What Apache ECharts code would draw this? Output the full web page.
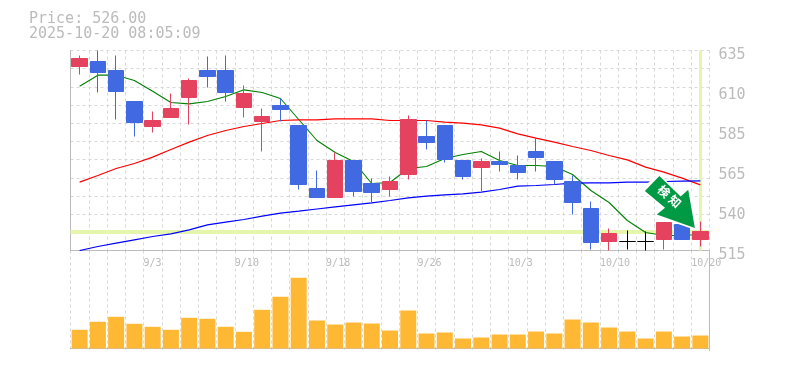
<!DOCTYPE html>
<html>
<head>
<meta charset="utf-8">
<style>
  html, body { margin: 0; padding: 0; background: #fff; }
  #chart { width: 785px; height: 370px; }
</style>
<script src="https://cdn.jsdelivr.net/npm/echarts@6/dist/echarts.min.js"></script>
</head>
<body>
<div id="chart"></div>
<script>
const dates = ['8/28', '8/29', '9/1', '9/2', '9/3', '9/4', '9/5', '9/8', '9/9', '9/10', '9/11', '9/12', '9/16', '9/17', '9/18', '9/19', '9/22', '9/24', '9/25', '9/26', '9/29', '9/30', '10/1', '10/2', '10/3', '10/6', '10/7', '10/8', '10/9', '10/10', '10/14', '10/15', '10/16', '10/17', '10/20']
// open, close, low, high
const candles = [
  [625.4, 630.2, 620.6, 632], [628.4, 621.8, 609.8, 635], [623, 610.4, 593.6, 632], [604.4, 591.8, 583.4, 604.4],
  [589.4, 593, 585.8, 598.4], [594.8, 600.2, 594.8, 609.2], [606.8, 617, 590.6, 618.2], [623, 619.4, 612.8, 631.4],
  [623, 609.8, 604.4, 632], [600.8, 609.2, 594.8, 614], [592.4, 595.4, 574.4, 600.2], [602, 599.6, 592.4, 606.2],
  [590, 554.6, 551.6, 590], [552.2, 546.8, 546.8, 563], [546.8, 569, 546.8, 573.8], [569, 550.4, 547.4, 569],
  [555.2, 549.8, 543.2, 558.2], [551.6, 556.4, 547.4, 559.4], [560.6, 593.6, 557.6, 596], [583.4, 579.8, 575.6, 593],
  [590, 569.6, 567.8, 590], [569, 559.4, 557.6, 569], [564.8, 568.4, 550.4, 570.2], [568.4, 566.6, 562.4, 574.4],
  [566, 561.8, 557.6, 572], [574.4, 570.8, 562.4, 582.2], [568.4, 557.6, 554.6, 568.4], [556.4, 543.8, 536.6, 560],
  [540.2, 519.8, 515.6, 544.4], [520.4, 525.2, 515, 528.2], [520.4, 520.4, 515.6, 527], [520.4, 520.4, 515, 526.4],
  [521.6, 531.8, 515.6, 531.8], [530.6, 521.6, 521.6, 530.6], [521.6, 526.4, 517.4, 532.4]
]
const maShort = [613.6, 620.2, 620.2, 617, 610.6, 603.8, 603, 604.4, 607.4, 611.4, 609.8, 606.2, 593.6, 581, 573.8, 568.4, 555.2, 555.8, 564.2, 565.4, 570.2, 572.6, 574.4, 569, 566, 566, 565.4, 560.6, 551, 543.8, 533, 525.8, 524, 524, 524.6]
const maMid = [556, 560, 564.2, 567.2, 571, 575.6, 580, 584, 587, 589.4, 591.2, 593, 593.4, 593.4, 594, 594, 594, 593, 593, 593, 592, 591.4, 590.4, 588.4, 585, 582.4, 580, 577.4, 575, 572, 569.4, 565, 562, 558.4, 554.4]
const maLong = [515, 517.4, 519.4, 521.4, 523.4, 525, 527.4, 530.4, 532, 533.6, 535.6, 537.4, 538.6, 539.9, 541.2, 542.4, 543.6, 545, 546.6, 547.6, 548.4, 549, 550, 551.6, 553.6, 554, 554.6, 555.4, 555.6, 555.6, 556, 556, 556.4, 556.6, 556.8]
const volumes = [18.7, 26.7, 31.7, 24.7, 21.7, 18.7, 30.7, 29.7, 21.7, 16.7, 38.7, 51.7, 70.7, 28, 24, 26, 25, 18, 38, 15, 16, 10, 11, 14, 14, 17, 15, 29, 26, 21, 17, 10, 17, 12, 13]
const priceTicks = [515, 539, 563, 587, 611, 635]
const priceLabels = ['515', '540', '565', '585', '610', '635']
const dateTickIndex = [4, 9, 14, 19, 24, 29, 34]
const dateTickLabels = ['9/3', '9/10', '9/18', '9/26', '10/3', '10/10', '10/20']
const lastPrice = 526

const gridColor = '#d8d8d8'
const axisColor = '#bbb'
const mono = '"DejaVu Sans Mono", monospace'
const dash = { color: gridColor, type: [3, 3], width: 1 }
const arrowPath = 'path://M0 15L14.6 0L36 20.3L43.6 13.6L50.3 51.6L12 38.3L20.3 31.6Z'

const chart = echarts.init(document.getElementById('chart'), null, { renderer: 'canvas' })

// 矢印の位置はローソク足の座標に合わせる
function arrowPoint(size, color, extra) {
  return Object.assign({
    coord: [dates[32], 544.1],
    symbol: arrowPath,
    symbolSize: size,
    symbolKeepAspect: false,
    symbolOffset: [6, 0],
    itemStyle: { color: color }
  }, extra)
}

chart.setOption({
  animation: false,
  backgroundColor: '#fff',
  title: {
    left: 29,
    top: 11,
    padding: 0,
    text: 'Price: 526.00\n2025-10-20 08:05:09',
    textStyle: { color: axisColor, fontFamily: mono, fontSize: 15, fontWeight: 'normal', lineHeight: 15.6 }
  },
  grid: [
    { left: 70.5, top: 50.5, width: 639, height: 200 },
    { left: 70.5, top: 250.5, width: 639, height: 100 }
  ],
  xAxis: [
    {
      type: 'category',
      gridIndex: 0,
      position: 'bottom',
      data: dates,
      axisLine: { show: true, lineStyle: { color: axisColor } },
      axisTick: { show: false },
      axisLabel: { show: false },
      splitLine: { show: true, interval: 0, lineStyle: dash }
    },
    {
      // 日付ラベル用
      type: 'value',
      gridIndex: 0,
      position: 'bottom',
      min: 0,
      max: dates.length,
      axisLine: { show: false },
      axisTick: { show: false },
      splitLine: { show: false },
      axisLabel: {
        customValues: dateTickIndex,
        align: 'left',
        margin: 8,
        color: axisColor,
        fontFamily: mono,
        fontSize: 10,
        formatter: function(v) {
          return dateTickLabels[dateTickIndex.indexOf(v)]
        }
      }
    },
    {
      type: 'category',
      gridIndex: 1,
      data: dates,
      axisLine: { show: true, lineStyle: { color: axisColor } },
      axisTick: { show: false },
      axisLabel: { show: false },
      splitLine: { show: true, interval: 0, lineStyle: dash }
    }
  ],
  yAxis: [
    {
      type: 'value',
      gridIndex: 0,
      position: 'right',
      min: 515,
      max: 635,
      axisLine: { show: true, lineStyle: { color: axisColor } },
      axisTick: { show: false },
      splitLine: { show: false },
      axisLabel: {
        customValues: priceTicks,
        margin: 9,
        verticalAlign: 'top',
        lineHeight: 9,
        color: axisColor,
        fontFamily: mono,
        fontSize: 15,
        formatter: function(v) {
          return priceLabels[priceTicks.indexOf(v)]
        }
      }
    },
    {
      // 横の点線用
      type: 'value',
      gridIndex: 0,
      min: 0,
      max: 11,
      interval: 1,
      axisLine: { show: false },
      axisTick: { show: false },
      axisLabel: { show: false },
      splitLine: { show: true, lineStyle: dash }
    },
    {
      type: 'value',
      gridIndex: 1,
      position: 'right',
      min: -2,
      max: 98,
      axisLine: { show: true, lineStyle: { color: axisColor } },
      axisTick: { show: false },
      axisLabel: { show: false },
      splitLine: { show: false }
    }
  ],
  series: [
    {
      name: 'MA short',
      type: 'line',
      data: maShort,
      xAxisIndex: 0,
      yAxisIndex: 0,
      symbol: 'none',
      z: 2,
      lineStyle: { color: '#008000', width: 1.1 },
      markLine: {
        silent: true,
        symbol: 'none',
        z: 1,
        label: { show: false },
        lineStyle: { color: '#e5f5ab', type: 'solid', width: 4 },
        data: [
          { yAxis: lastPrice },
          { xAxis: dates[dates.length - 1], lineStyle: { color: '#e5f5ab', type: 'solid', width: 3 } }
        ]
      }
    },
    { name: 'MA mid', type: 'line', data: maMid, xAxisIndex: 0, yAxisIndex: 0, symbol: 'none', z: 2, lineStyle: { color: '#ff0000', width: 1.2 } },
    { name: 'MA long', type: 'line', data: maLong, xAxisIndex: 0, yAxisIndex: 0, symbol: 'none', z: 2, lineStyle: { color: '#0000ff', width: 1.2 } },
    {
      name: 'Price',
      type: 'candlestick',
      data: candles,
      xAxisIndex: 0,
      yAxisIndex: 0,
      barWidth: 16,
      z: 3,
      itemStyle: {
        color: '#e4425f',
        color0: '#4169e1',
        borderColor: '#e4425f',
        borderColor0: '#4169e1',
        borderColorDoji: '#000',
        borderWidth: 1
      },
      markPoint: {
        silent: true,
        z: 5,
        data: [
          arrowPoint([57, 58], '#fff', { label: { show: false } }),
          arrowPoint([50, 52], '#009944', {
            label: {
              show: true,
              position: 'inside',
              offset: [-4, -4],
              rotate: -42,
              formatter: '検 知',
              color: '#fff',
              fontSize: 12,
              fontWeight: 'bold',
              fontFamily: '"Noto Sans CJK JP"'
            }
          })
        ]
      }
    },
    {
      name: 'Volume',
      type: 'bar',
      data: volumes,
      xAxisIndex: 2,
      yAxisIndex: 2,
      barWidth: 16,
      itemStyle: { color: '#ffb833' }
    }
  ]
})
</script>
</body>
</html>
